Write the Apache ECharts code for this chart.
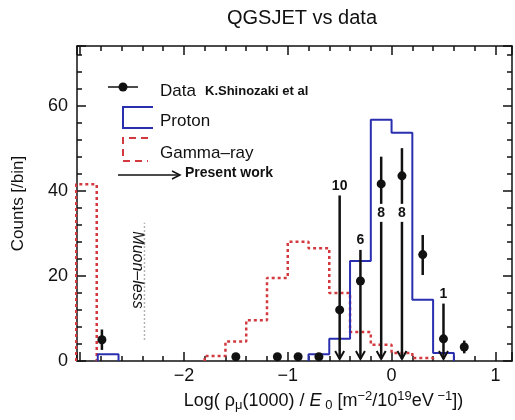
<!DOCTYPE html>
<html><head><meta charset="utf-8">
<script src="https://cdn.jsdelivr.net/npm/echarts@6/dist/echarts.min.js"></script>
<style>html,body{margin:0;padding:0;background:#fff}#c{width:515px;height:420px}</style>
</head><body><div id="c"></div>
<script>
// ---- data ----
const binWidth = 0.2;
const gammaLeft   = [-3.04, -1.8, -1.6, -1.4, -1.2, -1.0, -0.8, -0.6, -0.4, -0.2, 0.0, 0.2];
const gammaCounts = [41.5, 1.2, 4.6, 9.6, 19.5, 28, 26.5, 16, 6.8, 3.8, 1.9, 0.7];
const protonLeft   = [-2.83, -0.8, -0.6, -0.4, -0.2, 0.0, 0.2, 0.4];
const protonCounts = [1.6, 1.6, 5.2, 23.5, 56.7, 53.6, 14.4, 1.9];
const dataX = [-2.79, -1.5, -1.1, -0.9, -0.7, -0.5, -0.3, -0.1, 0.1, 0.3, 0.5, 0.7];
const dataY = [5, 1, 1, 1, 1, 12, 18.8, 41.6, 43.5, 25, 5.2, 3.3];
const errX  = [-2.79, 0.3, 0.7];
const errLo = [2.6, 20.2, 1.8];
const errHi = [7.4, 29.6, 4.8];
const limX     = [-0.5, -0.3, -0.1, 0.1, 0.5];
const limTop   = [39, 26.1, 48, 50, 13.9];
const limText  = ['10', '6', '8', '8', '1'];
const limTextY = [41, 28.5, 34.8, 34.8, 15.6];
const muonLessX = [-2.38, -2.38];
const muonLessY = [5, 32.5];
const xTicks = [-2, -1, 0, 1];
const yTicks = [0, 20, 40, 60];

const FONT = 'Liberation Sans';
const INK = '#111111';

function histPoints(left, counts) {
  const groups = [];
  let cur = null;
  for (let i = 0; i < left.length; i++) {
    const l = left[i], v = counts[i];
    const contiguous = cur && Math.abs(l - (left[i - 1] + binWidth)) < 1e-6;
    if (!contiguous) {
      if (cur) { cur.push([left[i - 1] + binWidth, 0]); groups.push(cur); }
      cur = [[l, 0]];
    }
    cur.push([l, v]);
    cur.push([l + binWidth, v]);
  }
  if (cur) { cur.push([left[left.length - 1] + binWidth, 0]); groups.push(cur); }
  return groups;
}

const series = [];
histPoints(gammaLeft, gammaCounts).forEach(g => series.push({
  type: 'line', data: g, symbol: 'none', silent: true, z: 2, clip: true,
  lineStyle: { color: '#d23a3f', width: 2.5, type: [3, 3] }
}));
histPoints(protonLeft, protonCounts).forEach(g => series.push({
  type: 'line', data: g, symbol: 'none', silent: true, z: 3, clip: true,
  lineStyle: { color: '#2a2fb0', width: 2 }
}));
// muon-less dotted marker line
series.push({
  type: 'line', data: muonLessX.map((x, i) => [x, muonLessY[i]]), symbol: 'none', z: 2,
  lineStyle: { color: '#9a9a9a', width: 1.5, type: [1.5, 2.5] }
});
// error bars
series.push({
  type: 'custom', z: 4,
  data: errX.map((x, i) => [x, errLo[i], errHi[i]]),
  renderItem: (params, api) => {
    const a = api.coord([api.value(0), api.value(1)]);
    const b = api.coord([api.value(0), api.value(2)]);
    return { type: 'line', shape: { x1: a[0], y1: a[1], x2: b[0], y2: b[1] },
      style: { stroke: INK, lineWidth: 2.5 } };
  }
});
// upper-limit arrows with counts
series.push({
  type: 'custom', z: 5,
  data: limX.map((x, i) => [x, limTop[i], limTextY[i]]),
  renderItem: (params, api) => {
    const x = api.value(0);
    const top = api.coord([x, api.value(1)]);
    const bot = api.coord([x, 0]);
    const lab = api.coord([x, api.value(2)]);
    const tip = bot[1] - 2;
    const txt = limText[params.dataIndex];
    return { type: 'group', children: [
      { type: 'line', shape: { x1: top[0], y1: top[1], x2: top[0], y2: tip },
        style: { stroke: INK, lineWidth: 2.5 } },
      { type: 'polyline', shape: { points: [[top[0] - 4.5, tip - 8], [top[0], tip], [top[0] + 4.5, tip - 8]] },
        style: { stroke: INK, fill: null, lineWidth: 2 } },
      { type: 'text', x: lab[0], y: lab[1], z2: 10,
        style: { text: txt, align: 'center', verticalAlign: 'middle', fill: INK,
          font: 'bold 14px "' + FONT + '"', backgroundColor: '#fff', padding: [2, 1] } }
    ]};
  }
});
// data points
series.push({
  type: 'scatter', z: 6, data: dataX.map((x, i) => [x, dataY[i]]),
  symbol: 'circle', symbolSize: 9, itemStyle: { color: INK, opacity: 1 }
});

const axisCommon = {
  axisLine: { show: true, onZero: false, lineStyle: { color: INK, width: 1.5 } },
  axisTick: { show: true, inside: true, length: 9, lineStyle: { color: INK, width: 1.5 } },
  minorTick: { show: true, splitNumber: 5, length: 5, lineStyle: { color: INK, width: 1.5 } },
  splitLine: { show: false },
  minorSplitLine: { show: false }
};

const fmtX = v => {
  const r = Math.round(v);
  if (Math.abs(v - r) > 1e-9 || xTicks.indexOf(r) < 0) return '';
  return r < 0 ? '\u2212' + (-r) : String(r);
};
const fmtY = v => {
  const r = Math.round(v);
  if (Math.abs(v - r) > 1e-9 || yTicks.indexOf(r) < 0) return '';
  return String(r);
};

const chart = echarts.init(document.getElementById('c'), null, { renderer: 'canvas' });
chart.setOption({
  animation: false,
  backgroundColor: '#fff',
  textStyle: { fontFamily: FONT },
  title: {
    text: 'QGSJET vs data', left: 297, top: 3, textAlign: 'center',
    textStyle: { fontFamily: FONT, fontSize: 20, fontWeight: 'normal', color: INK }
  },
  grid: { left: 77, right: 3, top: 46, bottom: 59, containLabel: false },
  xAxis: [
    Object.assign({}, axisCommon, {
      type: 'value', position: 'bottom', min: -3.03, max: 1.16, splitNumber: 5,
      axisLabel: { show: true, formatter: fmtX, fontSize: 18, color: INK, margin: 6, fontFamily: FONT },
      name: '{n|Log( \u03C1}{sub|\u03BC}{n|(1000) / }{it|E}{sub| 0}{n| [m}{sup|\u22122}{n|/10}{sup|19}{n|eV}{sup| \u22121}{n|])}',
      nameLocation: 'middle', nameGap: 26,
      nameTextStyle: {
        padding: [0, 0, 0, 58],
        rich: {
          n: { fontSize: 18, color: INK, fontFamily: FONT },
          it: { fontSize: 18, color: INK, fontFamily: FONT, fontStyle: 'italic' },
          sub: { fontSize: 13, color: INK, fontFamily: FONT, padding: [9, 0, 0, 0] },
          sup: { fontSize: 13, color: INK, fontFamily: FONT, padding: [0, 0, 9, 0] }
        }
      }
    }),
    Object.assign({}, axisCommon, {
      type: 'value', position: 'top', min: -3.03, max: 1.16, splitNumber: 5,
      axisLabel: { show: false }
    })
  ],
  yAxis: [
    Object.assign({}, axisCommon, {
      type: 'value', position: 'left', min: 0, max: 74, interval: 20,
      axisLabel: { show: true, formatter: fmtY, fontSize: 18, color: INK, margin: 9, fontFamily: FONT },
      name: 'Counts [/bin]', nameLocation: 'middle', nameGap: 50,
      nameTextStyle: { fontSize: 17, color: INK, fontFamily: FONT }
    }),
    Object.assign({}, axisCommon, {
      type: 'value', position: 'right', min: 0, max: 74, interval: 20,
      axisLabel: { show: false }
    })
  ],
  graphic: [
    { type: 'line', shape: { x1: 108, y1: 87, x2: 138, y2: 87 }, style: { stroke: INK, lineWidth: 1.5 } },
    { type: 'circle', shape: { cx: 123, cy: 87, r: 4.5 }, style: { fill: INK } },
    { type: 'text', x: 160, y: 91, style: { text: 'Data', font: '17px "' + FONT + '"', fill: INK, verticalAlign: 'middle' } },
    { type: 'text', x: 205, y: 91, style: { text: 'K.Shinozaki et al', font: 'bold 13px "' + FONT + '"', fill: INK, verticalAlign: 'middle' } },
    { type: 'polyline', shape: { points: [[153, 107], [123, 107], [123, 128], [153, 128]] }, style: { stroke: '#2a2fb0', lineWidth: 2, fill: null } },
    { type: 'text', x: 160, y: 121.5, style: { text: 'Proton', font: '17px "' + FONT + '"', fill: INK, verticalAlign: 'middle' } },
    { type: 'polyline', shape: { points: [[148, 138], [123, 138], [123, 161], [148, 161]] }, style: { stroke: '#d23a3f', lineWidth: 2, fill: null, lineDash: [7, 5] } },
    { type: 'text', x: 160, y: 153, style: { text: 'Gamma\u2013ray', font: '17px "' + FONT + '"', fill: INK, verticalAlign: 'middle' } },
    { type: 'line', shape: { x1: 118, y1: 175, x2: 179, y2: 175 }, style: { stroke: INK, lineWidth: 1.5 } },
    { type: 'polyline', shape: { points: [[172, 171], [180, 175], [172, 179]] }, style: { stroke: INK, lineWidth: 1.5, fill: null } },
    { type: 'text', x: 185, y: 173, style: { text: 'Present work', font: 'bold 14px "' + FONT + '"', fill: INK, verticalAlign: 'middle' } },
    { type: 'text', x: 137, y: 270, rotation: -Math.PI / 2,
      style: { text: 'Muon\u2013less', font: 'italic 16px "' + FONT + '"', fill: INK, align: 'center', verticalAlign: 'middle' } }
  ],
  series: series
});
</script>
</body></html>
